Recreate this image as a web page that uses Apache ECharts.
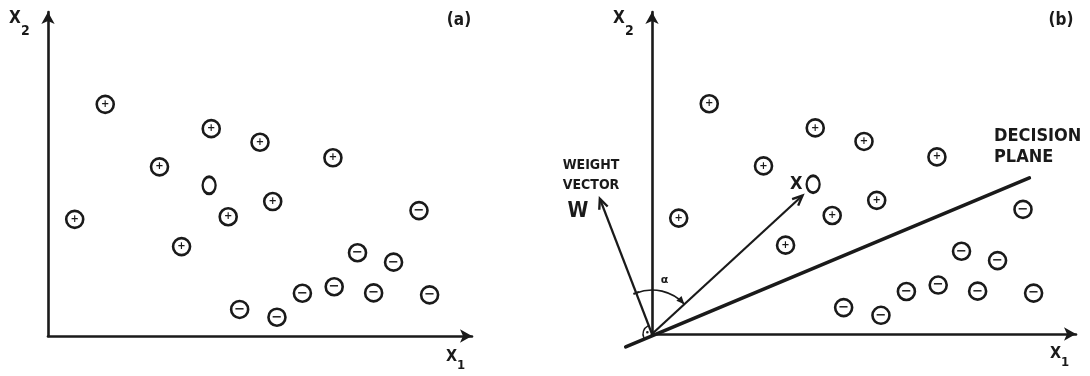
<!DOCTYPE html>
<html>
<head>
<meta charset="utf-8">
<title>Weight vector and decision plane</title>
<script src="https://cdn.jsdelivr.net/npm/echarts@6/dist/echarts.min.js"></script>
<style>
  html, body { margin: 0; padding: 0; background: #fff; }
  #main { width: 1090px; height: 376px; }
</style>
</head>
<body>
<div id="main"></div>
<script>
// samples (same layout in both panels), feature units 0..10
const plusPoints = [
  [1.35, 7.15], [3.85, 6.4], [5.0, 5.98], [6.72, 5.5], [2.63, 5.22],
  [5.3, 4.15], [0.63, 3.6], [4.25, 3.68], [3.15, 2.76]
]
const minusPoints = [
  [8.75, 3.87], [7.3, 2.57], [8.15, 2.28], [6.75, 1.52], [6.0, 1.32],
  [7.68, 1.33], [9.0, 1.27], [4.52, 0.82], [5.4, 0.58]
]
const unknownPoint = [[3.8, 4.65]]

// panel (b)
const weightVector = [-1.23, 4.2]
const sampleVector = [3.55, 4.3]
const planeEnds = [[-0.62, -0.4], [8.9, 4.85]]

const ink = '#1a1a1a'
const labelFont = '"DejaVu Sans Condensed", "DejaVu Sans", sans-serif'

let chartDom = document.getElementById('main')
let myChart = echarts.init(chartDom)
let option

function makeAxis(gridIndex) {
  return {
    type: 'value',
    gridIndex: gridIndex,
    min: 0,
    max: 10,
    axisLine: {
      show: true,
      onZero: false,
      symbol: ['none', 'arrow'],
      symbolSize: [10, 12],
      lineStyle: { color: ink, width: 2.6 }
    },
    axisTick: { show: false },
    axisLabel: { show: false },
    splitLine: { show: false }
  }
}

function sampleSeries(idx, pts, sign) {
  return {
    type: 'scatter',
    xAxisIndex: idx,
    yAxisIndex: idx,
    data: pts,
    symbol: 'circle',
    symbolSize: 17,
    z: 5,
    itemStyle: { color: '#fff', borderColor: ink, borderWidth: 2.6, opacity: 1 },
    label: {
      show: true,
      position: 'inside',
      formatter: sign,
      color: ink,
      fontSize: sign === '+' ? 10 : 13,
      fontWeight: 'bold',
      fontFamily: 'DejaVu Sans'
    },
    emphasis: { disabled: true },
    silent: true
  }
}

function unknownSeries(idx, withName) {
  return {
    type: 'scatter',
    xAxisIndex: idx,
    yAxisIndex: idx,
    data: unknownPoint,
    symbol: 'circle',
    symbolSize: [13, 17],
    z: 5,
    itemStyle: { color: '#fff', borderColor: ink, borderWidth: 2.6, opacity: 1 },
    label: {
      show: withName,
      position: 'left',
      distance: 3,
      formatter: 'X',
      color: ink,
      fontSize: 18,
      fontWeight: 'bold',
      fontFamily: labelFont
    },
    silent: true
  }
}

// vector from the origin with an open arrow head
function renderVector(params, api) {
  const p0 = api.coord([0, 0])
  const p1 = api.coord([api.value(0), api.value(1)])
  const ang = Math.atan2(p1[1] - p0[1], p1[0] - p0[0])
  const L = 11, a = 0.42
  const h1 = [p1[0] - L * Math.cos(ang - a), p1[1] - L * Math.sin(ang - a)]
  const h2 = [p1[0] - L * Math.cos(ang + a), p1[1] - L * Math.sin(ang + a)]
  return {
    type: 'group',
    children: [
      { type: 'line', shape: { x1: p0[0], y1: p0[1], x2: p1[0], y2: p1[1] }, style: { stroke: ink, lineWidth: 2.2 } },
      { type: 'polyline', shape: { points: [h1, p1, h2] }, style: { stroke: ink, lineWidth: 2.4, fill: null } }
    ]
  }
}

// decision plane, drawn through the origin
function renderPlane(params, api) {
  const a = api.coord(planeEnds[0])
  const b = api.coord(planeEnds[1])
  return {
    type: 'line',
    shape: { x1: a[0], y1: a[1], x2: b[0], y2: b[1] },
    style: { stroke: ink, lineWidth: 3.6, lineCap: 'round' }
  }
}

// angle alpha between w and x, and the right-angle mark between w and the plane
function renderAngles(params, api) {
  const o = api.coord([0, 0])
  const angOf = (v) => {
    const p = api.coord(v)
    return Math.atan2(p[1] - o[1], p[0] - o[0])
  }
  const aW = angOf(weightVector)
  const aX = angOf(sampleVector)
  const aP = angOf(planeEnds[0])
  const r = 44
  const ex = [o[0] + r * Math.cos(aX), o[1] + r * Math.sin(aX)]
  const t = [-Math.sin(aX), Math.cos(aX)]
  const n = [Math.cos(aX), Math.sin(aX)]
  const head = [
    ex,
    [ex[0] - 8 * t[0] + 3.5 * n[0], ex[1] - 8 * t[1] + 3.5 * n[1]],
    [ex[0] - 8 * t[0] - 3.5 * n[0], ex[1] - 8 * t[1] - 3.5 * n[1]]
  ]
  const ws = [o[0] + r * Math.cos(aW), o[1] + r * Math.sin(aW)]
  const mid = (aW + aX) / 2
  const aW2 = aW < aP ? aW + Math.PI * 2 : aW
  const midP = (aP + aW2) / 2
  return {
    type: 'group',
    children: [
      { type: 'arc', shape: { cx: o[0], cy: o[1], r: r, startAngle: aW, endAngle: aX, clockwise: true }, style: { stroke: ink, lineWidth: 1.6, fill: null } },
      { type: 'polygon', shape: { points: head }, style: { fill: ink } },
      { type: 'line', shape: { x1: ws[0] - 3 * Math.sin(aW), y1: ws[1] + 3 * Math.cos(aW), x2: ws[0] + 3 * Math.sin(aW), y2: ws[1] - 3 * Math.cos(aW) }, style: { stroke: ink, lineWidth: 2 } },
      { type: 'text', x: o[0] + 55 * Math.cos(mid), y: o[1] + 55 * Math.sin(mid), style: { text: 'α', fill: ink, font: 'bold 11px "DejaVu Sans"', align: 'center', verticalAlign: 'middle' } },
      { type: 'arc', shape: { cx: o[0], cy: o[1], r: 9, startAngle: aP, endAngle: aW2, clockwise: true }, style: { stroke: ink, lineWidth: 1.4, fill: null } },
      { type: 'circle', shape: { cx: o[0] + 5 * Math.cos(midP), cy: o[1] + 5 * Math.sin(midP), r: 1.3 }, style: { fill: ink } }
    ]
  }
}

function txt(x, y, s, size, align) {
  return {
    type: 'text',
    x: x,
    y: y,
    silent: true,
    style: {
      text: s,
      fill: ink,
      font: 'bold ' + size + 'px ' + labelFont,
      align: align || 'left',
      verticalAlign: 'top'
    }
  }
}

option = {
  animation: false,
  backgroundColor: '#fff',
  grid: [
    { left: 48, top: 12, width: 424, height: 324 },
    { left: 652, top: 12, width: 424, height: 322 }
  ],
  xAxis: [makeAxis(0), makeAxis(1)],
  yAxis: [makeAxis(0), makeAxis(1)],
  graphic: [
    // panel (a)
    txt(9, 10, 'X', 17), txt(21, 24, '2', 14),
    txt(459, 12, '(a)', 17, 'center'),
    txt(446, 349, 'X', 16), txt(457, 359, '1', 13),
    // panel (b)
    txt(613, 10, 'X', 17), txt(625, 24, '2', 14),
    txt(1061, 12, '(b)', 17, 'center'),
    txt(1050, 346, 'X', 16), txt(1061, 356, '1', 13),
    txt(591, 158, 'WEIGHT', 14, 'center'),
    txt(591, 178, 'VECTOR', 14, 'center'),
    txt(578, 201, 'W', 21, 'center'),
    txt(994, 127, 'DECISION', 18),
    txt(994, 148, 'PLANE', 18)
  ],
  series: [
    sampleSeries(0, plusPoints, '+'),
    sampleSeries(0, minusPoints, '−'),
    unknownSeries(0, false),
    {
      type: 'custom',
      xAxisIndex: 1,
      yAxisIndex: 1,
      data: [[0, 0]],
      encode: { x: 0, y: 1 },
      clip: false,
      renderItem: renderPlane,
      silent: true
    },
    {
      type: 'custom',
      xAxisIndex: 1,
      yAxisIndex: 1,
      data: [weightVector, sampleVector],
      encode: { x: 0, y: 1 },
      clip: false,
      renderItem: renderVector,
      silent: true
    },
    {
      type: 'custom',
      xAxisIndex: 1,
      yAxisIndex: 1,
      data: [[0, 0]],
      encode: { x: 0, y: 1 },
      clip: false,
      renderItem: renderAngles,
      silent: true
    },
    sampleSeries(1, plusPoints, '+'),
    sampleSeries(1, minusPoints, '−'),
    unknownSeries(1, true)
  ]
}

option && myChart.setOption(option)
</script>
</body>
</html>
